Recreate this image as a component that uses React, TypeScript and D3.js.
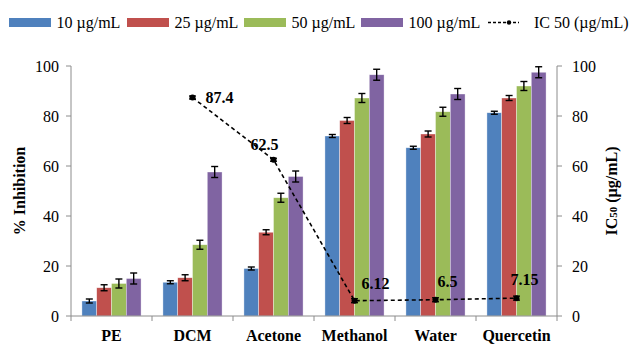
import React from 'react';
import * as d3 from 'd3';

// extracts and the % inhibition per concentration
const categories = ['PE', 'DCM', 'Acetone', 'Methanol', 'Water', 'Quercetin'];
const seriesNames = ['10 µg/mL', '25 µg/mL', '50 µg/mL', '100 µg/mL'];
const colors = ['#4F81BD', '#C0504D', '#9BBB59', '#8064A2'];

const conc10 = [6, 13.5, 19, 72, 67.3, 81.3];
const conc25 = [11.3, 15.3, 33.5, 78.2, 72.8, 87.2];
const conc50 = [13, 28.5, 47.3, 87.2, 81.7, 92];
const conc100 = [15, 57.6, 55.8, 96.5, 88.8, 97.5];

const err10 = [0.8, 0.6, 0.6, 0.6, 0.6, 0.6];
const err25 = [1.2, 1.2, 1, 1.2, 1.2, 1];
const err50 = [1.8, 1.8, 1.8, 1.8, 1.8, 1.8];
const err100 = [2.2, 2.2, 2.2, 2.2, 2.2, 2.2];

// IC50 line (no value for PE)
const icCategories = ['DCM', 'Acetone', 'Methanol', 'Water', 'Quercetin'];
const icValues = [87.4, 62.5, 6.12, 6.5, 7.15];
const icErrors = [0.6, 0.6, 0.8, 0.8, 0.8];
const icLabels = ['87.4', '62.5', '6.12', '6.5', '7.15'];
// label offsets from the marker, like the hand-moved excel labels
const icLabelDx = [13, -23, 7, 2, -6];
const icLabelDy = [5, -10, -12, -13, -13];

const leftTicks = [0, 20, 40, 60, 80, 100];
const rightTicks = [0, 20, 40, 60, 80, 100];

const W = 630, H = 344;
const margin = { top: 66, right: 73, bottom: 28, left: 71 };

export default function App() {
  const plotW = W - margin.left - margin.right;
  const plotH = H - margin.top - margin.bottom;

  const x = d3.scaleBand().domain(categories).range([0, plotW]).paddingInner(0.27).paddingOuter(0.135);
  const x0 = d3.scaleBand().domain(categories).range([0, plotW]);
  const xs = d3.scaleBand().domain(seriesNames).range([0, x.bandwidth()]);
  const y = d3.scaleLinear().domain([0, 100]).range([plotH, 0]);
  const yR = d3.scaleLinear().domain([0, 100]).range([plotH, 0]);

  const values = [conc10, conc25, conc50, conc100];
  const errors = [err10, err25, err50, err100];

  const cx = (c: string) => (x0(c) as number) + x0.bandwidth() / 2;
  const line = d3.line<number>()
    .x((d, i) => cx(icCategories[i]))
    .y(d => yR(d));

  const font = '"Liberation Serif", "Times New Roman", serif';
  const axisColor = '#8c8c8c';
  const legendX = [9, 127, 244, 361];

  return (
    <svg width={W} height={H} style={{ position: 'absolute', left: 0, top: 0, fontFamily: font }}>
      <rect width={W} height={H} fill="#fff" />
      {/* legend */}
      <g transform="translate(0,22.5)">
        {seriesNames.map((s, i) => (
          <g key={s} transform={`translate(${legendX[i]},0)`}>
            <rect x={0} y={-4.5} width={42} height={9} fill={colors[i]} />
            <text x={47.5} y={5.5} fontSize={16}>{s}</text>
          </g>
        ))}
        <g transform="translate(488,0)">
          <line x1={0} x2={31} y1={0} y2={0} stroke="#000" strokeWidth={1.3} strokeDasharray="3,2" />
          <circle cx={21} cy={0} r={2.2} fill="#000" />
          <text x={46} y={5.5} fontSize={16}>IC 50 (µg/mL)</text>
        </g>
      </g>

      <g transform={`translate(${margin.left},${margin.top})`}>
        {/* bars */}
        {values.map((vals, si) => (
          <g key={si}>
            {vals.map((v, ci) => {
              const c = categories[ci];
              const bx = (x(c) as number) + (xs(seriesNames[si]) as number);
              return (
                <rect key={c} x={bx} y={y(v)} width={xs.bandwidth()} height={plotH - y(v)}
                  fill={colors[si]} stroke="#fff" strokeOpacity={0.6} strokeWidth={0.6} />
              );
            })}
          </g>
        ))}
        {/* bar error bars */}
        {values.map((vals, si) => (
          <g key={'e' + si} stroke="#000" strokeWidth={1.4}>
            {vals.map((v, ci) => {
              const c = categories[ci];
              const mx = (x(c) as number) + (xs(seriesNames[si]) as number) + xs.bandwidth() / 2;
              const e = errors[si][ci];
              return (
                <g key={c}>
                  <line x1={mx} x2={mx} y1={y(v + e)} y2={y(v - e)} />
                  <line x1={mx - 3.5} x2={mx + 3.5} y1={y(v + e)} y2={y(v + e)} />
                  <line x1={mx - 3.5} x2={mx + 3.5} y1={y(v - e)} y2={y(v - e)} />
                </g>
              );
            })}
          </g>
        ))}

        {/* axes */}
        <line x1={0} x2={0} y1={0} y2={plotH} stroke={axisColor} />
        <line x1={plotW} x2={plotW} y1={0} y2={plotH} stroke={axisColor} />
        <line x1={0} x2={plotW} y1={plotH} y2={plotH} stroke={axisColor} />
        {leftTicks.map(t => (
          <g key={'l' + t}>
            <line x1={-5} x2={0} y1={y(t)} y2={y(t)} stroke={axisColor} />
            <text x={-12} y={y(t)} dy="0.35em" textAnchor="end" fontSize={16}>{t}</text>
          </g>
        ))}
        {rightTicks.map(t => (
          <g key={'r' + t}>
            <line x1={plotW} x2={plotW + 5} y1={yR(t)} y2={yR(t)} stroke={axisColor} />
            <text x={plotW + 15} y={yR(t)} dy="0.35em" fontSize={16}>{t}</text>
          </g>
        ))}
        {categories.map(c => (
          <line key={'t' + c} x1={x0(c) as number} x2={x0(c) as number} y1={plotH} y2={plotH + 5} stroke={axisColor} />
        ))}
        <line x1={plotW} x2={plotW} y1={plotH} y2={plotH + 5} stroke={axisColor} />
        {categories.map(c => (
          <text key={'c' + c} x={cx(c)} y={plotH + 25} textAnchor="middle" fontSize={16} fontWeight="bold">{c}</text>
        ))}

        {/* IC50 line */}
        <path d={line(icValues) || ''} fill="none" stroke="#000" strokeWidth={1.6} strokeDasharray="4,3" />
        {icValues.map((v, i) => {
          const px = cx(icCategories[i]);
          const e = icErrors[i];
          return (
            <g key={'ic' + i}>
              <g stroke="#000" strokeWidth={1.3}>
                <line x1={px} x2={px} y1={yR(v + e)} y2={yR(v - e)} />
                <line x1={px - 3.5} x2={px + 3.5} y1={yR(v + e)} y2={yR(v + e)} />
                <line x1={px - 3.5} x2={px + 3.5} y1={yR(v - e)} y2={yR(v - e)} />
              </g>
              <circle cx={px} cy={yR(v)} r={3} fill="#000" />
              <text x={px + icLabelDx[i]} y={yR(v) + icLabelDy[i]} fontSize={16} fontWeight="bold">{icLabels[i]}</text>
            </g>
          );
        })}
      </g>

      {/* axis titles */}
      <text transform={`translate(25,${margin.top + plotH / 2}) rotate(-90)`} textAnchor="middle" fontSize={16} fontWeight="bold">% Inhibition</text>
      <text transform={`translate(617,${margin.top + plotH / 2}) rotate(-90)`} textAnchor="middle" fontSize={16} fontWeight="bold">
        <tspan>IC</tspan><tspan fontSize={11}>50</tspan><tspan> (µg/mL)</tspan>
      </text>
    </svg>
  );
}
